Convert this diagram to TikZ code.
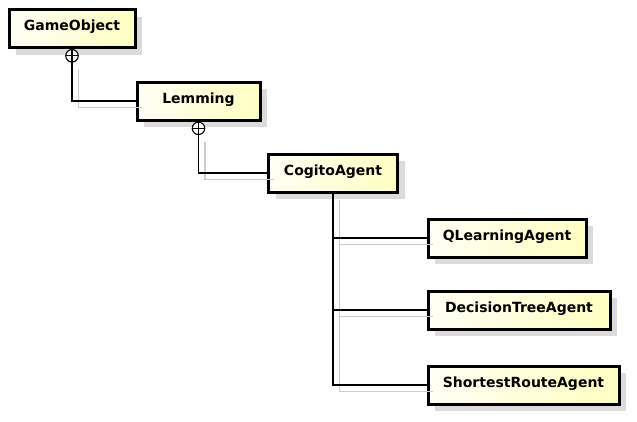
\documentclass[tikz,border=0pt]{standalone}
\usepackage{fontspec}
\setsansfont{DejaVu Sans}
\usetikzlibrary{positioning,shadows}

\begin{document}
\begin{tikzpicture}[node distance=30pt,
    classbox/.style={draw,line width=3pt,minimum height=38pt,inner ysep=0pt,text height=10pt,text depth=5.5pt,
        left color=yellow!4,right color=yellow!24,font=\sffamily\bfseries\fontsize{14}{16}\selectfont,
        drop shadow={shadow xshift=7pt,shadow yshift=-7pt,fill=black!14,opacity=1}},
    nest/.style={draw,circle,line width=1.1pt,minimum size=12.5pt,inner sep=0pt,fill=white},
    link/.style={line width=1.3pt},
    linkshadow/.style={line width=1.3pt,black!20,transform canvas={shift={(6.5pt,-6.5pt)}}}]
    \useasboundingbox (0,0) rectangle (637pt,-421pt);

    \node[classbox,minimum width=126pt,anchor=north west] (gameobject) at (7.5pt,-8pt) {GameObject};
    \node[classbox,minimum width=123pt,below right=31.5pt and -1pt of gameobject] (lemming) {Lemming};
    \node[classbox,minimum width=129pt,below right=31pt and 5.5pt of lemming] (cogito) {CogitoAgent};
    
    \node[classbox,minimum width=158pt,below right=24pt and 27.5pt of cogito] (qlearning) {QLearningAgent};
    \node[classbox,minimum width=182pt,below=31pt of qlearning.south west,anchor=north west] (dectree) {DecisionTreeAgent};
    \node[classbox,minimum width=191pt,below=34pt of dectree.south west,anchor=north west] (shortroute) {ShortestRouteAgent};
    
    \node[nest,below=0pt of gameobject] (nest1) {};
    \node[nest,below=0pt of lemming] (nest2) {};
    
    \draw[linkshadow] (nest1.south) |- (lemming.west);
    \draw[linkshadow] (nest2.south) |- (cogito.west);
    \draw[linkshadow] (cogito.south) |- (shortroute.west);
    \draw[linkshadow] (cogito.south) |- (qlearning.west);
    \draw[linkshadow] (cogito.south) |- (dectree.west);
    
    \draw[link] (nest1.north) |- (lemming.west);
    \draw[link] (nest1.west) -- (nest1.east);
    \draw[link] (nest2.north) |- (cogito.west);
    \draw[link] (nest2.west) -- (nest2.east);
    \draw[link] (cogito.south) |- (shortroute.west);
    \draw[link] (cogito.south) |- (qlearning.west);
    \draw[link] (cogito.south) |- (dectree.west);
\end{tikzpicture}
\end{document}
